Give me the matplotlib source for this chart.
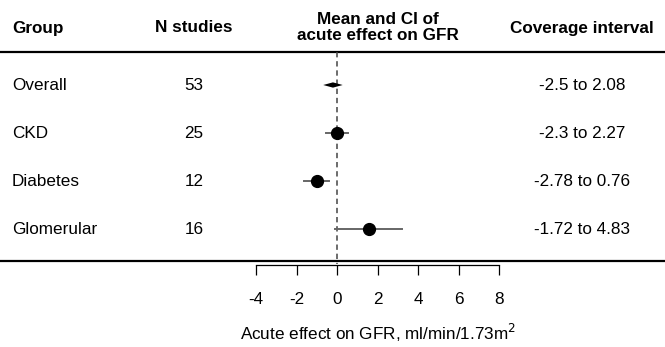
import numpy as np
import matplotlib.pyplot as plt

# data
groups = ["Overall", "CKD", "Diabetes", "Glomerular"]
n_studies = [53, 25, 12, 16]
means = [-0.2, 0.0, -1.0, 1.58]
ci_low = [-0.68, -0.55, -1.63, -0.08]
ci_high = [0.28, 0.56, -0.38, 3.22]
coverage = ["-2.5 to 2.08", "-2.3 to 2.27", "-2.78 to 0.76", "-1.72 to 4.83"]
xticks = [-4, -2, 0, 2, 4, 6, 8]

plt.rcParams['font.family'] = ['Liberation Sans', 'DejaVu Sans']
W, H = 665, 347
fig = plt.figure(figsize=(W / 100, H / 100), dpi=100)

# pixel layout -> data mapping (x in effect units, y in row units)
x0_px, px_per_unit = 337, 20.25
row0_px, row_px = 85, 48
xlim = ((0 - x0_px) / px_per_unit, (W - x0_px) / px_per_unit)
xmid = (xticks[0] + xticks[-1]) / 2  # centre of the plot region

def ry(py):
    return (py - row0_px) / row_px

def cx(px):
    return (px - x0_px) / px_per_unit

ax = fig.add_axes([0, 0, 1, 1])
ax.set_xlim(*xlim)
ax.set_ylim(ry(H), ry(0))
ax.axis('off')

fs = 12.3
# header
ax.text(cx(12), ry(28), "Group", fontsize=fs, fontweight='bold', ha='left', va='center')
ax.text(cx(194), ry(28), "N studies", fontsize=fs, fontweight='bold', ha='center', va='center')
ax.text(xmid, ry(27.5), "Mean and CI of\nacute effect on GFR", fontsize=fs, fontweight='bold',
        ha='center', va='center', linespacing=1.05)
ax.text(cx(582), ry(28), "Coverage interval", fontsize=fs, fontweight='bold', ha='center', va='center')

ax.plot(xlim, [ry(52)] * 2, color='black', lw=1.6, solid_capstyle='butt')
ax.plot(xlim, [ry(261)] * 2, color='black', lw=1.6, solid_capstyle='butt')
ax.plot([0, 0], [ry(52), ry(264)], color='#444444', lw=1.1, ls=(0, (3.5, 2.5)))

for i, g in enumerate(groups):
    ax.text(cx(12), i, g, fontsize=fs, ha='left', va='center')
    ax.text(cx(194), i, str(n_studies[i]), fontsize=fs, ha='center', va='center')
    ax.text(cx(582), i, coverage[i], fontsize=fs, ha='center', va='center')
    if i == 0:
        h = 0.055
        ax.fill([ci_low[i], means[i], ci_high[i], means[i]], [i, i - h, i, i + h],
                color='black', lw=0, zorder=3)
    else:
        ax.plot([ci_low[i], ci_high[i]], [i, i], color='#666666', lw=1.4, zorder=2)
        ax.plot(means[i], i, 'o', color='black', ms=8.5, zorder=3)

# bottom axis
axb = fig.add_axes([0, 1 - 265 / H, 1, 0.001])
axb.set_xlim(*xlim)
axb.set_facecolor('none')
axb.set_yticks([])
for s in ['top', 'left', 'right']:
    axb.spines[s].set_visible(False)
axb.spines['bottom'].set_bounds(xticks[0], xticks[-1])
axb.spines['bottom'].set_linewidth(0.9)
axb.set_xticks(xticks)
axb.set_xticklabels([str(t) for t in xticks])
axb.tick_params(axis='x', direction='out', length=7.5, width=0.9, pad=12, labelsize=fs)
axb.set_xlabel("Acute effect on GFR, ml/min/1.73m$^2$", fontsize=fs, labelpad=11)
axb.xaxis.label.set_x((xmid - xlim[0]) / (xlim[1] - xlim[0]))

fig.savefig("out.png", dpi=100)
